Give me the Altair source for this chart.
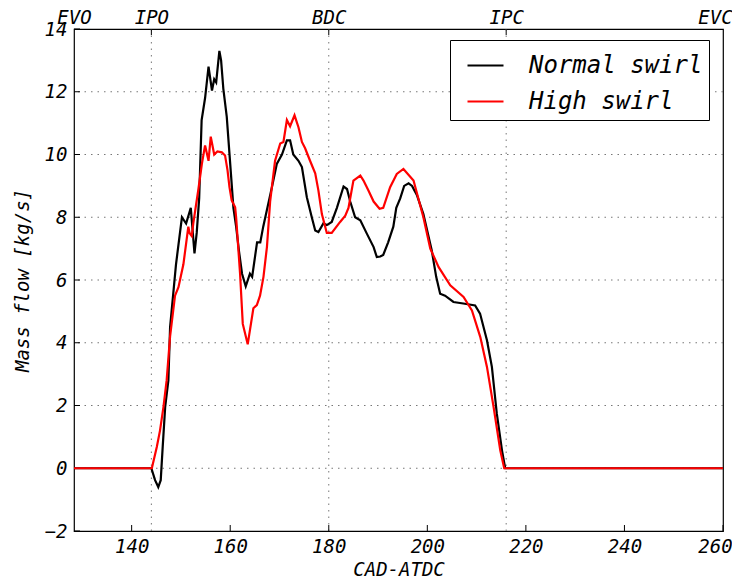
import altair as alt
import pandas as pd

# ---- data ----
normal_x = [128.3, 144.0, 144.75, 145.4, 145.9, 146.3, 146.8, 147.45, 147.8, 149.0, 150.2, 151.05, 152.0,
            152.75, 153.2, 153.7, 154.2, 154.9, 155.6, 156.3, 156.75, 157.15, 157.8, 158.15, 158.6, 159.3,
            160.0, 160.65, 161.2, 161.8, 162.4, 163.15, 164.0, 164.45, 165.45, 166.1, 166.7, 167.4, 168.45,
            169.45, 170.5, 171.5, 172.15, 172.8, 173.85, 174.55, 175.55, 176.55, 177.25, 177.9, 178.9, 179.6,
            180.6, 181.65, 183.0, 183.7, 184.35, 185.35, 186.4, 187.75, 189.1, 189.75, 190.45, 191.05, 192.05,
            193.1, 193.7, 194.5, 195.3, 196.2, 196.9, 197.9, 199.2, 200.9, 201.8, 202.6, 203.6, 205.3, 207.3,
            209.7, 210.7, 212.1, 213.1, 214.1, 215.15, 215.8, 260.0]
normal_y = [0.0, 0.0, -0.38, -0.6, -0.38, 0.68, 1.95, 2.8, 4.5, 6.5, 8.0, 7.8, 8.3,
            6.85, 7.5, 8.6, 11.1, 11.8, 12.8, 12.04, 12.4, 12.3, 13.3, 13.0, 12.1, 11.2,
            9.7, 8.3, 7.7, 6.9, 6.2, 5.8, 6.2, 6.1, 7.2, 7.2, 7.7, 8.2, 8.95,
            9.7, 10.0, 10.45, 10.45, 10.0, 9.8, 9.6, 8.64, 8.0, 7.58, 7.53, 7.8, 7.75,
            7.85, 8.3, 8.98, 8.9, 8.5, 8.0, 7.9, 7.47, 7.05, 6.73, 6.75, 6.8, 7.2,
            7.7, 8.3, 8.6, 9.0, 9.08, 9.0, 8.7, 8.1, 6.94, 6.1, 5.56, 5.5, 5.3, 5.25,
            5.19, 4.93, 4.08, 3.23, 1.74, 0.57, 0.0, 0.0]

high_x = [128.3, 144.1, 145.1, 145.75, 146.45, 147.1, 147.8, 148.8, 149.5, 150.5, 151.5, 151.75, 152.2,
          152.5, 153.55, 154.25, 154.9, 155.6, 156.05, 156.75, 157.4, 158.3, 158.95, 159.45, 159.85, 160.3,
          161.0, 161.2, 162.0, 162.55, 163.55, 164.7, 165.4, 166.05, 166.75, 167.45, 168.1, 169.1, 170.15,
          170.8, 171.5, 172.15, 173.05, 173.85, 174.55, 175.2, 176.2, 177.25, 177.9, 178.6, 179.6, 180.6,
          182.3, 183.35, 184.0, 185.0, 186.4, 187.05, 188.05, 189.1, 190.3, 191.05, 192.45, 193.8, 195.15,
          197.2, 199.2, 200.6, 202.3, 204.65, 207.35, 209.05, 210.75, 212.1, 213.45, 214.8, 215.6, 260.0]
high_y = [0.0, 0.0, 0.68, 1.2, 1.95, 2.8, 4.2, 5.5, 5.77, 6.5, 7.7, 7.5, 7.4,
          7.8, 8.9, 9.7, 10.29, 9.8, 10.57, 10.0, 10.1, 10.07, 9.97, 9.5, 8.96, 8.54,
          8.32, 8.0, 6.2, 4.6, 3.95, 5.1, 5.2, 5.5, 6.1, 7.05, 8.5, 9.8, 10.35,
          10.4, 11.1, 10.9, 11.25, 10.87, 10.4, 10.2, 9.8, 9.4, 8.85, 8.1, 7.5, 7.5,
          7.85, 8.05, 8.3, 9.17, 9.33, 9.17, 8.85, 8.5, 8.27, 8.3, 8.96, 9.38, 9.54,
          9.17, 8.0, 7.0, 6.41, 5.83, 5.46, 5.03, 4.18, 3.23, 1.95, 0.57, 0.0, 0.0]

series_names = ["Normal swirl", "High swirl"]
series_colors = ["#000000", "#ff0000"]

x_ticks = [140, 160, 180, 200, 220, 240, 260]
y_ticks = [-2, 0, 2, 4, 6, 8, 10, 12, 14]
grid_y = [0, 2, 4, 6, 8, 10, 12]
event_pos = [128.3, 144, 180, 216, 260]
event_labels = ["EVO", "IPO", "BDC", "IPC", "EVC"]
grid_x = [144, 180, 216]

X_DOMAIN = [128.3, 260]
Y_DOMAIN = [-2, 14]
W, H = 649, 502
FONT = "DejaVu Sans Mono"

df_n = pd.DataFrame({"cad": normal_x, "flow": normal_y, "series": series_names[0]})
df_h = pd.DataFrame({"cad": high_x, "flow": high_y, "series": series_names[1]})

xs = alt.Scale(domain=X_DOMAIN, nice=False, zero=False)
ys = alt.Scale(domain=Y_DOMAIN, nice=False, zero=False)
cs = alt.Scale(domain=series_names, range=series_colors)

legend = alt.Legend(title=None, orient="none", legendX=376, legendY=11,
                    symbolType="stroke", symbolSize=1296, symbolStrokeWidth=2.2,
                    labelFont=FONT, labelFontSize=24, labelFontStyle="italic", labelColor="black",
                    labelLimit=400,
                    strokeColor="black", fillColor="white", padding=6, rowPadding=4,
                    labelOffset=24, symbolOffset=10, cornerRadius=0)

black_line = alt.Chart(df_n).mark_line(strokeWidth=2.2).encode(
    x=alt.X("cad:Q", scale=xs,
            axis=alt.Axis(values=x_ticks, title="CAD-ATDC", grid=False, ticks=False, domain=False,
                          labelPadding=6, titlePadding=4, labelFlush=False,
                          labelOffset={"expr": "datum.value == 260 ? -8 : 0"})),
    y=alt.Y("flow:Q", scale=ys,
            axis=alt.Axis(values=y_ticks, title="Mass flow  [kg/s]", grid=False, ticks=False,
                          domain=False, labelPadding=7, titlePadding=12, labelFlush=False)),
    color=alt.Color("series:N", scale=cs, legend=legend),
)

red_line = alt.Chart(df_h).mark_line(strokeWidth=2.2).encode(
    x=alt.X("cad:Q", scale=xs, axis=None),
    y=alt.Y("flow:Q", scale=ys, axis=None),
    color=alt.Color("series:N", scale=cs, legend=legend),
)

dash = [1.5, 5]
hgrid = alt.Chart(pd.DataFrame({"v": grid_y})).mark_rule(
    color="#777777", strokeWidth=1, strokeDash=dash).encode(
    y=alt.Y("v:Q", scale=ys, axis=None))

vgrid = alt.Chart(pd.DataFrame({"pos": grid_x})).mark_rule(
    color="#777777", strokeWidth=1, strokeDash=dash).encode(
    x=alt.X("pos:Q", scale=xs, axis=None))

bottom_ticks = alt.Chart(pd.DataFrame({"t": x_ticks})).mark_rule(color="black", strokeWidth=1).encode(
    x=alt.X("t:Q", scale=xs, axis=None), y=alt.value(H), y2=alt.value(H - 6))

left_ticks = alt.Chart(pd.DataFrame({"t": y_ticks})).mark_rule(color="black", strokeWidth=1).encode(
    y=alt.Y("t:Q", scale=ys, axis=None), x=alt.value(0), x2=alt.value(6))

label_expr = " : ".join(
    f"datum.value == {p} ? '{l}'" for p, l in zip(event_pos, event_labels)) + " : ''"

top_ticks = alt.Chart(pd.DataFrame({"pos": grid_x})).mark_rule(color="black", strokeWidth=1).encode(
    x=alt.X("pos:Q", scale=xs,
            axis=alt.Axis(orient="top", values=event_pos, labelExpr=label_expr, title=None,
                          ticks=False, grid=False, domain=False, labelPadding=2, labelFlush=False,
                          labelOffset={"expr": "datum.value == 260 ? -8 : 0"})),
    y=alt.value(0), y2=alt.value(6))

chart = alt.layer(
    hgrid, vgrid, bottom_ticks, left_ticks, top_ticks, black_line, red_line
).resolve_axis(x="independent", y="independent").properties(
    width=W, height=H,
    background="white",
    autosize=alt.AutoSizeParams(type="none"),
    padding={"left": 66, "top": 21, "right": 9, "bottom": 48},
).configure_view(
    stroke="black", strokeWidth=1.2
).configure_axis(
    labelFont=FONT, labelFontSize=19, labelFontStyle="italic", labelColor="black",
    titleFont=FONT, titleFontSize=19, titleFontStyle="italic", titleFontWeight="normal",
    titleColor="black"
)

chart.save("out.html", embed_options={"renderer": "svg", "actions": False})
